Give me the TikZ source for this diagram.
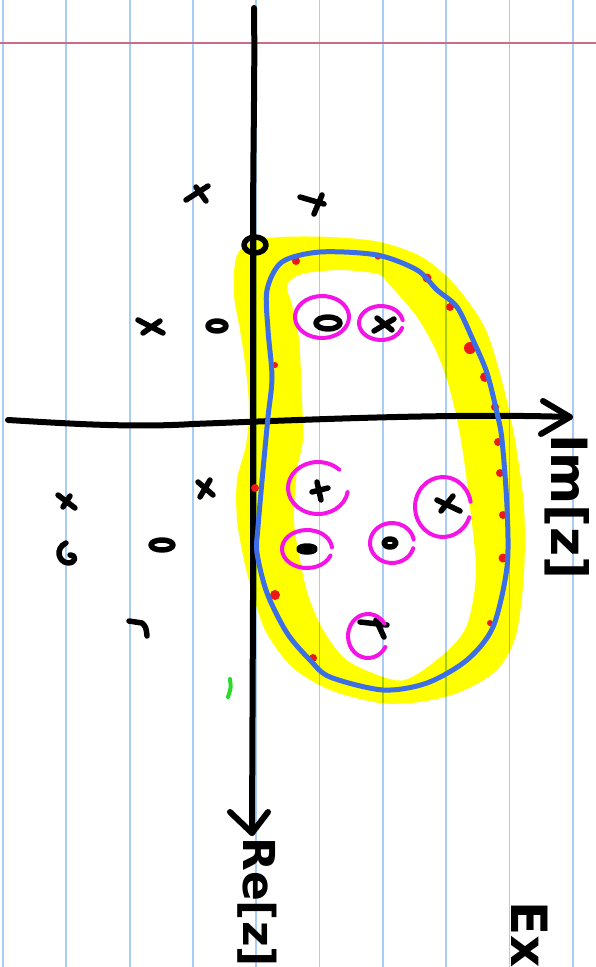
\documentclass[tikz,border=0pt]{standalone}
\usepackage{fontspec}
\setsansfont{DejaVu Sans}
\definecolor{paperblue}{RGB}{170,205,245}
\definecolor{papergreen}{RGB}{170,205,0}
\definecolor{marginred}{RGB}{200,110,135}
\definecolor{hlmagenta}{RGB}{245,20,230}
\definecolor{contourblue}{RGB}{60,110,230}
\definecolor{hlyellow}{RGB}{255,255,0}
\definecolor{dotred}{RGB}{235,25,25}
\definecolor{tickgreen}{RGB}{40,220,40}
\newcommand\magarc[6]{\draw[hl] ([shift={(#3:#4 and #5)}]#1,#2) arc (#3:#6:#4 and #5);}
\begin{document}
\begin{tikzpicture}[x=1pt,y=-1pt,
  paperline/.style={line width=1.8pt, color=paperblue},
  ink/.style={line width=5.5pt, line cap=round, line join=round, black},
  axis/.style={ink, line width=6pt},
  hl/.style={line width=4pt, color=hlmagenta, line cap=round},
  contour/.style={line width=5pt, color=contourblue, line join=round},
  reddot/.style={fill=dotred},
  lbl/.style={font=\sffamily\bfseries\fontsize{50}{50}\selectfont, rotate=-90, inner sep=0pt},
]
\useasboundingbox (0,0) rectangle (596,967);
\fill[white] (0,0) rectangle (596,967);
% paper ruling
\foreach \i in {0,...,9} \draw[paperline] ({3+63.3*\i},0) -- ({3+63.3*\i},967);
\draw[line width=2pt, marginred] (0,43) -- (596,43);
% yellow highlight band
\fill[hlyellow, even odd rule]
  plot[smooth cycle] coordinates {(236,258) (250,242) (280,237) (330,237) (380,242) (422,257) (455,285) (485,328) (503,385) (515,440) (524,507) (524,573) (516,635) (497,670) (460,692) (420,702) (380,703) (330,690) (292,667) (266,632) (253,595) (244,560) (237,520) (237,480) (246,445) (249,410) (246,370) (240,330) (234,295)}
  plot[smooth cycle] coordinates {(287,285) (302,274) (340,270) (378,274) (388,283) (417,317) (437,353) (450,390) (461,440) (470,507) (476,573) (467,625) (445,653) (405,680) (370,672) (343,657) (322,628) (308,595) (300,560) (294,520) (297,470) (303,440) (302,400) (299,340) (292,305)};
\begin{scope}[even odd rule]
\clip
  plot[smooth cycle] coordinates {(236,258) (250,242) (280,237) (330,237) (380,242) (422,257) (455,285) (485,328) (503,385) (515,440) (524,507) (524,573) (516,635) (497,670) (460,692) (420,702) (380,703) (330,690) (292,667) (266,632) (253,595) (244,560) (237,520) (237,480) (246,445) (249,410) (246,370) (240,330) (234,295)}
  plot[smooth cycle] coordinates {(287,285) (302,274) (340,270) (378,274) (388,283) (417,317) (437,353) (450,390) (461,440) (470,507) (476,573) (467,625) (445,653) (405,680) (370,672) (343,657) (322,628) (308,595) (300,560) (294,520) (297,470) (303,440) (302,400) (299,340) (292,305)};
\foreach \i in {0,...,9} \draw[line width=1.8pt, papergreen] ({3+63.3*\i},0) -- ({3+63.3*\i},967);
\end{scope}
% axes
\coordinate (vtop) at (254,8);
\coordinate (vtip) at (252,833);
\coordinate (vl) at (230,812);
\coordinate (vr) at (268,812);
\coordinate (hleft) at (8,420);
\coordinate (htip) at (570,417);
\coordinate (hu) at (543,401);
\coordinate (hd) at (541,434);
\draw[axis] (vtop) .. controls (255,80) and (253,140) .. (253,250) -- (253,600) -- (vtip);
\draw[axis] (vl) -- (vtip) -- (vr);
\draw[axis] (hleft) .. controls (60,423) and (130,428) .. (193,424) .. controls (300,420) and (450,413) .. (htip);
\draw[axis] (hu) -- (htip) -- (hd);
% marks outside
\draw[ink] (186,200) -- (208,186) (196,187) -- (206,201);
\draw[ink] (300,197) -- (324,204) (322,195) -- (314,214);
\draw[ink] (255,245) ellipse (11 and 8);
\draw[ink] (138,320) -- (163,333) (143,333) -- (160,321);
\draw[ink] (217,326) ellipse (9 and 5);
\draw[ink] (198,482) -- (213,495) (210,480) -- (200,497);
\draw[ink] (58,495) -- (75,508) (70,496) -- (63,507);
\draw[ink] (66,543) .. controls (55,548) and (58,562) .. (68,563) .. controls (76,563) and (77,555) .. (70,555);
\draw[ink] (162,545) ellipse (11 and 5);
\draw[ink] (129,621) -- (142,623) .. controls (146,627) .. (147,636);
\draw[line width=4pt, tickgreen, line cap=round] (230,679) .. controls (231,688) .. (228,697);
% marks inside
\draw[ink] (328,323) ellipse (12 and 6);
\draw[ink] (374,331) -- (394,319) (377,318) -- (392,330);
\draw[ink] (317,482) -- (321,500) (312,492) -- (328,488);
\draw[ink] (437,500) -- (460,511) (453,496) -- (441,511);
\draw[ink] (307,549) ellipse (8 and 3);
\draw[ink] (390,543) ellipse (6 and 4);
\draw[ink] (360,622) -- (387,625) (376,620) -- (384,637);
% red dots
\foreach \p/\r in {(296,261)/4, (378,256)/3.5, (427,278)/4.5, (450,307)/4, (470,348)/6, (485,377)/5, (495,407)/4, (275,365)/3, (255,488)/4, (275,595)/5, (313,658)/4, (498,442)/4, (500,473)/4, (503,515)/4, (503,558)/4.5, (490,623)/3}
  \fill[reddot] \p circle (\r);
% blue contour
\draw[contour] plot[smooth cycle] coordinates {(267,290) (282,262) (320,252) (377,255) (417,270) (437,290) (457,307) (473,340) (487,373) (497,413) (502,440) (507,507) (507,567) (493,627) (467,660) (427,683) (383,690) (330,677) (310,660) (287,633) (267,593) (257,553) (258,527) (263,470) (268,417) (272,377) (268,330)};
% magenta circles
\magarc{322}{317}{20}{27}{21}{375}
\magarc{381}{323}{17}{22}{17}{350}
\magarc{318}{488}{9}{30}{26}{315}
\magarc{443}{507}{20}{28}{30}{350}
\magarc{307}{549}{20}{25}{19}{355}
\magarc{392}{543}{15}{22}{20}{350}
\magarc{368}{636}{30}{20}{22}{326}
% labels
\node[lbl] (imlabel) at (567,507) {Im[z]};
\node[lbl, font=\sffamily\bfseries\fontsize{44}{44}\selectfont] (relabel) at (257,902) {Re[z]};
\node[lbl, font=\sffamily\bfseries\fontsize{50}{50}\selectfont] (exlabel) at (530,935) {Ex};
\end{tikzpicture}
\end{document}
